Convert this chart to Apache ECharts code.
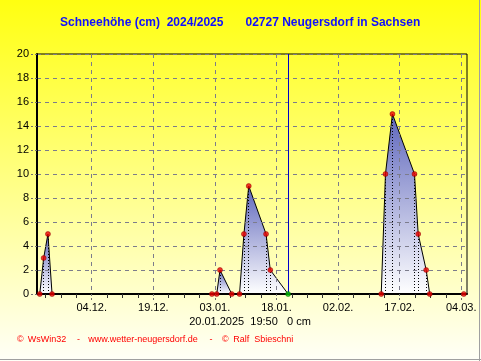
<!DOCTYPE html>
<html><head><meta charset="utf-8">
<script src="https://cdn.jsdelivr.net/npm/echarts@6/dist/echarts.min.js"></script>
<style>html,body{margin:0;padding:0;background:#fff}#c{width:481px;height:361px}</style>
</head><body><div id="c"></div>
<script>
// ---- data ----
const readingTimes = [
  '2024-11-21 08:00','2024-11-22 07:00','2024-11-23 08:00','2024-11-24 08:00',
  '2025-01-02 06:30','2025-01-03 10:30','2025-01-04 05:45','2025-01-07 02:30',
  '2025-01-09 00:00','2025-01-10 01:40','2025-01-11 05:45','2025-01-15 11:00',
  '2025-01-16 11:45','2025-01-20 19:50',
  '2025-02-12 12:15','2025-02-13 13:00','2025-02-15 05:45','2025-02-20 14:40',
  '2025-02-21 12:15','2025-02-23 11:00','2025-02-24 07:40','2025-03-04 15:00'
];
const snowCm = [
  0, 3, 5, 0,
  0, 0, 2, 0,
  0, 5, 9, 5,
  2, 0,
  0, 10, 15, 10,
  5, 2, 0, 0
];
const nowTime = '2025-01-20 19:50';
const nowCm = 0;
const xTickDates = ['2024-12-04','2024-12-19','2025-01-03','2025-01-18','2025-02-02','2025-02-17','2025-03-04'];
const axisStart = '2024-11-20 16:00';
const axisEnd = '2025-03-05 09:40';
const yMin = 0, yMax = 20, yStep = 2;
const titleLeft = 'Schneehöhe (cm)  2024/2025';
const titleRight = '02727 Neugersdorf in Sachsen';
const statusText = '20.01.2025  19:50   0 cm';

// ---- helpers ----
const ORIGIN = Date.UTC(2024, 11, 4);
function toDay(s) {
  const m = s.match(/(\d+)-(\d+)-(\d+)(?: (\d+):(\d+))?/);
  const t = Date.UTC(+m[1], +m[2] - 1, +m[3], +(m[4] || 0), +(m[5] || 0));
  return (t - ORIGIN) / 86400000;
}
function fmtDay(d) {
  const dt = new Date(ORIGIN + Math.round(d * 86400000));
  const dd = String(dt.getUTCDate()).padStart(2, '0');
  const mm = String(dt.getUTCMonth() + 1).padStart(2, '0');
  return dd + '.' + mm + '.';
}
const xs = readingTimes.map(toDay);
const xMin = toDay(axisStart), xMax = toDay(axisEnd);
const majors = xTickDates.map(toDay);
const step = majors[1] - majors[0];
const minors = [];
for (let v = majors[0] - step; v <= majors[majors.length - 1] + step; v += step / 4) {
  const isMajor = majors.some(m => Math.abs(m - v) < 1e-6);
  if (!isMajor && v >= xMin && v <= xMax) minors.push(v);
}
const pts = xs.map((x, i) => [x, snowCm[i]]);
const nowX = toDay(nowTime);

// split into humps (each hump: leading zero, positive values, trailing zero)
const humps = [];
for (let i = 0; i < pts.length; i++) {
  if (pts[i][1] > 0) {
    const start = Math.max(0, i - 1);
    let j = i;
    while (j < pts.length && pts[j][1] > 0) j++;
    const end = Math.min(pts.length - 1, j);
    humps.push(pts.slice(start, end + 1));
    i = j;
  }
}

const areaGrad = new echarts.graphic.LinearGradient(0, 0, 0, 1, [
  { offset: 0, color: '#5e66bc' },
  { offset: 1, color: '#ffffff' }
]);
const gridDash = { color: '#7c7c8c', type: [4, 4], width: 1 };

const series = humps.map(h => ({
  type: 'line',
  data: h,
  showSymbol: false,
  symbol: 'none',
  lineStyle: { color: '#000', width: 1 },
  areaStyle: { color: areaGrad, opacity: 1 },
  z: 2,
  silent: true
}));

series.push({
  type: 'scatter',
  data: pts.filter(p => !(Math.abs(p[0] - nowX) < 1e-6)),
  symbol: 'circle',
  symbolSize: 5,
  itemStyle: { color: '#ee0000', borderColor: '#8a0000', borderWidth: 0.6 },
  z: 6,
  silent: true,
  markLine: {
    silent: true,
    symbol: 'none',
    label: { show: false },
    lineStyle: { color: '#000', type: [1, 2], width: 1 },
    data: pts.filter(p => p[1] > 0).map(p => [{ coord: [p[0], 0] }, { coord: [p[0], p[1]] }])
  }
});
series.push({
  type: 'scatter',
  data: [[nowX, nowCm]],
  symbol: 'circle',
  symbolSize: 5,
  itemStyle: { color: '#00c000', borderColor: '#006000', borderWidth: 0.6 },
  z: 7,
  silent: true,
  markLine: {
    silent: true,
    symbol: 'none',
    label: { show: false },
    lineStyle: { color: '#0000cc', type: 'solid', width: 1 },
    data: [{ xAxis: nowX }]
  }
});

const FONT = '"Liberation Sans", Arial, sans-serif';
const chart = echarts.init(document.getElementById('c'), null, { renderer: 'canvas' });
chart.setOption({
  animation: false,
  grid: { left: 37, right: 14, top: 54, bottom: 67, show: true, borderColor: '#000', borderWidth: 1, backgroundColor: 'transparent' },
  xAxis: [{
    type: 'value', min: xMin, max: xMax, position: 'bottom', z: 3,
    axisLine: { onZero: false, lineStyle: { color: '#000', width: 2 } },
    axisTick: { show: true, customValues: majors, length: 6, lineStyle: { color: '#707070', type: [2, 2] } },
    axisLabel: { customValues: majors, formatter: v => fmtDay(v), color: '#000', fontSize: 11, fontFamily: FONT, margin: 8 },
    splitLine: { show: true, lineStyle: gridDash }
  }, {
    type: 'value', min: xMin, max: xMax, position: 'bottom', z: 3,
    axisLine: { show: false, onZero: false },
    axisTick: { show: true, customValues: minors, length: 4, lineStyle: { color: '#303030' } },
    axisLabel: { show: false },
    splitLine: { show: false }
  }],
  yAxis: {
    type: 'value', min: yMin, max: yMax, interval: yStep, z: 3, position: 'left',
    axisLine: { show: true, onZero: false, lineStyle: { color: '#000', width: 2 } },
    axisTick: { show: true, length: 6, lineStyle: { color: '#707070', type: [2, 2] } },
    axisLabel: { color: '#000', fontSize: 11, fontFamily: FONT, margin: 8 },
    splitLine: { show: true, lineStyle: gridDash }
  },
  graphic: [
    { type: 'rect', z: -100, silent: true, shape: { x: 0, y: 0, width: 481, height: 361 },
      style: { fill: new echarts.graphic.LinearGradient(0, 0, 0, 1, [
        { offset: 0, color: '#ffff10' }, { offset: 1, color: '#fffff8' }]) } },
    { type: 'line', z: 50, silent: true, shape: { x1: 479.5, y1: 0, x2: 479.5, y2: 361 }, style: { stroke: '#a0a0a0', lineWidth: 1 } },
    { type: 'line', z: 50, silent: true, shape: { x1: 0, y1: 359.5, x2: 481, y2: 359.5 }, style: { stroke: '#a0a0a0', lineWidth: 1 } },
    { type: 'text', z: 50, silent: true, x: 60, y: 23, style: { text: titleLeft, fill: '#1010ff', font: 'bold 12px ' + FONT, align: 'left', verticalAlign: 'middle' } },
    { type: 'text', z: 50, silent: true, x: 245.5, y: 23, style: { text: titleRight, fill: '#1010ff', font: 'bold 12px ' + FONT, align: 'left', verticalAlign: 'middle' } },
    { type: 'text', z: 50, silent: true, x: 250, y: 322, style: { text: statusText, fill: '#000', font: '11px ' + FONT, align: 'center', verticalAlign: 'middle' } },
    { type: 'text', z: 50, silent: true, x: 17, y: 340, style: { text: '©', fill: '#ff0000', font: '9px ' + FONT, align: 'left', verticalAlign: 'middle' } },
    { type: 'text', z: 50, silent: true, x: 27.7, y: 340, style: { text: 'WsWin32', fill: '#ff0000', font: '9px ' + FONT, align: 'left', verticalAlign: 'middle' } },
    { type: 'text', z: 50, silent: true, x: 78.5, y: 340, style: { text: '-', fill: '#ff0000', font: '9px ' + FONT, align: 'center', verticalAlign: 'middle' } },
    { type: 'text', z: 50, silent: true, x: 88.3, y: 340, style: { text: 'www.wetter-neugersdorf.de', fill: '#ff0000', font: '9px ' + FONT, align: 'left', verticalAlign: 'middle' } },
    { type: 'text', z: 50, silent: true, x: 211, y: 340, style: { text: '-', fill: '#ff0000', font: '9px ' + FONT, align: 'center', verticalAlign: 'middle' } },
    { type: 'text', z: 50, silent: true, x: 222, y: 340, style: { text: '©', fill: '#ff0000', font: '9px ' + FONT, align: 'left', verticalAlign: 'middle' } },
    { type: 'text', z: 50, silent: true, x: 233.3, y: 340, style: { text: 'Ralf  Sbieschni', fill: '#ff0000', font: '9px ' + FONT, align: 'left', verticalAlign: 'middle' } }
  ],
  series: series
});
</script>
</body></html>
